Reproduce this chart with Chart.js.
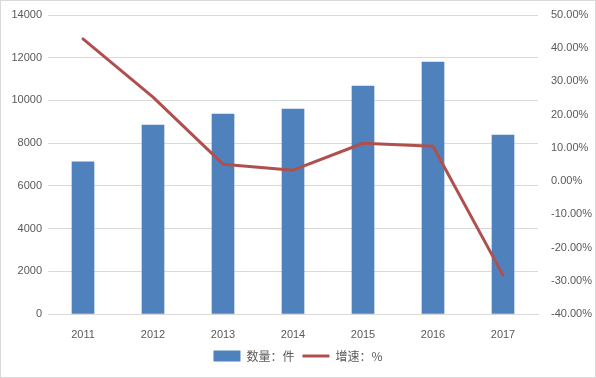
<!DOCTYPE html>
<html>
<head>
<meta charset="utf-8">
<script src="https://cdn.jsdelivr.net/npm/chart.js@4"></script>
<style>
  body { margin: 0; background: #fff; }
  #wrap { width: 596px; height: 378px; }
</style>
</head>
<body>
<div id="wrap"><canvas id="chart" width="596" height="378"></canvas></div>
<script>
// data
const years = ["2011", "2012", "2013", "2014", "2015", "2016", "2017"];
const counts = [7120, 8850, 9360, 9600, 10670, 11800, 8380];
const growth = [42.8, 25.3, 5.1, 3.3, 11.4, 10.5, -28.3];   // percent
const countLabel = "数量：件";
const growthLabel = "增速：%";

const gray = "#595959";
const tickFont = { family: "'Liberation Sans', Arial, sans-serif", size: 11 };

// thin frame round the whole picture
const frame = {
    id: "frame",
    afterDraw(chart) {
        const ctx = chart.ctx;
        ctx.save();
        ctx.strokeStyle = "#d9d9d9";
        ctx.lineWidth = 1;
        ctx.strokeRect(0.5, 0.5, chart.width - 1, chart.height - 1);
        ctx.restore();
    }
};

new Chart(document.getElementById("chart"), {
    type: "bar",
    data: {
        labels: years,
        datasets: [
            {
                type: "bar",
                label: countLabel,
                data: counts,
                yAxisID: "y",
                backgroundColor: "#4f81bd",
                barThickness: 22,
                order: 2
            },
            {
                type: "line",
                label: growthLabel,
                data: growth,
                yAxisID: "y1",
                borderColor: "#b0504e",
                backgroundColor: "#b0504e",
                borderWidth: 3,
                pointRadius: 0,
                tension: 0,
                borderCapStyle: "round",
                borderJoinStyle: "round",
                pointStyle: "line",
                order: 1
            }
        ]
    },
    options: {
        responsive: false,
        animation: false,
        layout: { padding: { top: 15, bottom: 6 } },
        plugins: {
            tooltip: { enabled: false },
            legend: {
                position: "bottom",
                labels: {
                    usePointStyle: true,
                    pointStyleWidth: 27,
                    boxHeight: 11,
                    padding: 8,
                    color: gray,
                    font: { family: "'Noto Sans CJK SC', sans-serif", size: 12 },
                    sort: (a, b) => a.datasetIndex - b.datasetIndex,
                    generateLabels(chart) {
                        const items = Chart.defaults.plugins.legend.labels.generateLabels(chart);
                        items.forEach(it => {
                            if (it.datasetIndex === 0) {
                                it.pointStyle = "rect";
                                it.lineWidth = 0;
                            } else {
                                it.pointStyle = "line";
                                it.lineWidth = 3;
                            }
                        });
                        return items;
                    }
                }
            }
        },
        scales: {
            x: {
                grid: { display: false },
                border: { color: "#d9d9d9" },
                ticks: { color: gray, font: tickFont, padding: 6 },
                afterFit(s) { s.height = 28; }
            },
            y: {
                position: "left",
                min: 0,
                max: 14000,
                ticks: { stepSize: 2000, color: gray, font: tickFont, padding: 6, callback: v => String(v) },
                grid: { color: "#d9d9d9", drawTicks: false },
                border: { display: false },
                afterFit(s) { s.width = 48; }
            },
            y1: {
                position: "right",
                min: -40,
                max: 50,
                ticks: {
                    stepSize: 10,
                    color: gray,
                    font: tickFont,
                    padding: 5,
                    callback: v => v.toFixed(2) + "%"
                },
                grid: { display: false },
                border: { display: false },
                afterFit(s) { s.width = 58; }
            }
        }
    },
    plugins: [frame]
});
</script>
</body>
</html>
